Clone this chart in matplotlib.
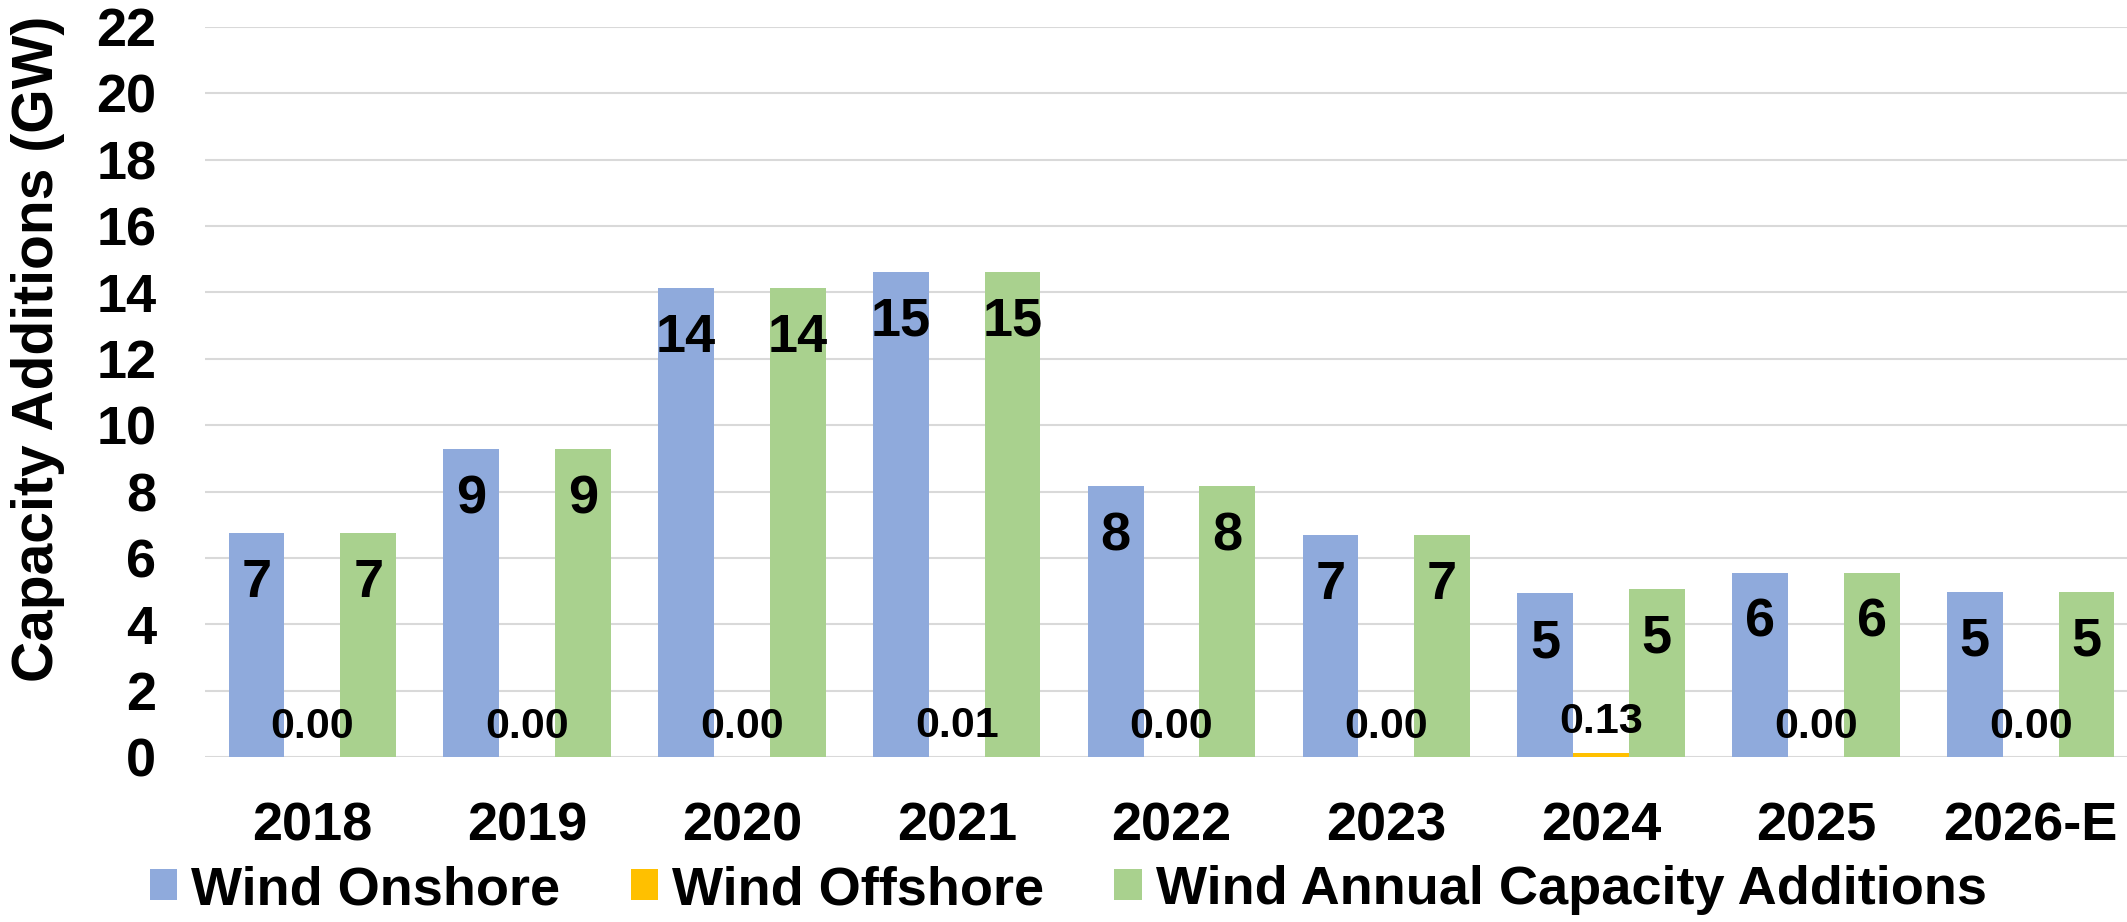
import matplotlib.pyplot as plt
import numpy as np

plt.rcParams['font.family'] = ['Liberation Sans', 'DejaVu Sans']
plt.rcParams['font.weight'] = 'bold'

# data
years = ['2018', '2019', '2020', '2021', '2022', '2023', '2024', '2025', '2026-E']
onshore = [6.74, 9.27, 14.14, 14.62, 8.16, 6.69, 4.93, 5.55, 4.98]
offshore = [0.00, 0.00, 0.00, 0.01, 0.00, 0.00, 0.13, 0.00, 0.00]
total = [a + b for a, b in zip(onshore, offshore)]
yticks = list(range(0, 23, 2))

c_on = '#8FAADC'
c_off = '#FFC000'
c_tot = '#A9D18E'

fig = plt.figure(figsize=(21.27, 9.22), dpi=100)
ax = fig.add_axes([205 / 2127, 165 / 922, 1933 / 2127, 730 / 922])

x = np.arange(len(years))
w = 0.26
b_on = ax.bar(x - w, onshore, w, color=c_on, label='Wind Onshore', zorder=2)
b_off = ax.bar(x, offshore, w, color=c_off, label='Wind Offshore', zorder=2)
b_tot = ax.bar(x + w, total, w, color=c_tot, label='Wind Annual Capacity Additions', zorder=2)

# labels inside the top of the big bars
for bars, vals in [(b_on, onshore), (b_tot, total)]:
    for r, v in zip(bars, vals):
        ax.annotate(f'{v:.0f}', (r.get_x() + r.get_width() / 2, v),
                    xytext=(0, -46), textcoords='offset points',
                    ha='center', va='baseline', fontsize=39, fontweight='bold', zorder=3)

# offshore labels just above the bar
for r, v in zip(b_off, offshore):
    ax.annotate(f'{v:.2f}', (r.get_x() + r.get_width() / 2, v),
                xytext=(0, 14), textcoords='offset points',
                ha='center', va='baseline', fontsize=31, fontweight='bold', zorder=3)

ax.set_xlim(-0.5, 8.5)
ax.set_ylim(0, 22)
ax.set_yticks(yticks)
ax.set_xticks(x)
ax.set_xticklabels(years)
ax.tick_params(axis='both', length=0, labelsize=39)
ax.tick_params(axis='x', pad=32)
ax.tick_params(axis='y', pad=35)
for lab in ax.get_xticklabels() + ax.get_yticklabels():
    lab.set_fontweight('bold')

ax.grid(axis='y', color='#D9D9D9', linewidth=1.5, zorder=0)
for s in ax.spines.values():
    s.set_visible(False)

ax.set_ylabel('Capacity Additions (GW)', fontsize=41, fontweight='bold', va='center')
ax.yaxis.set_label_coords(-0.0864, 0.559)

fig.legend(loc='center left', bbox_to_anchor=(150 / 2127, 1 - 890 / 922), ncol=3,
           frameon=False, handlelength=0.5, handleheight=0.5,
           handletextpad=0.26, columnspacing=1.3, borderpad=0, borderaxespad=0,
           prop={'weight': 'bold', 'size': 39})

fig.savefig('out.png', dpi=100)
